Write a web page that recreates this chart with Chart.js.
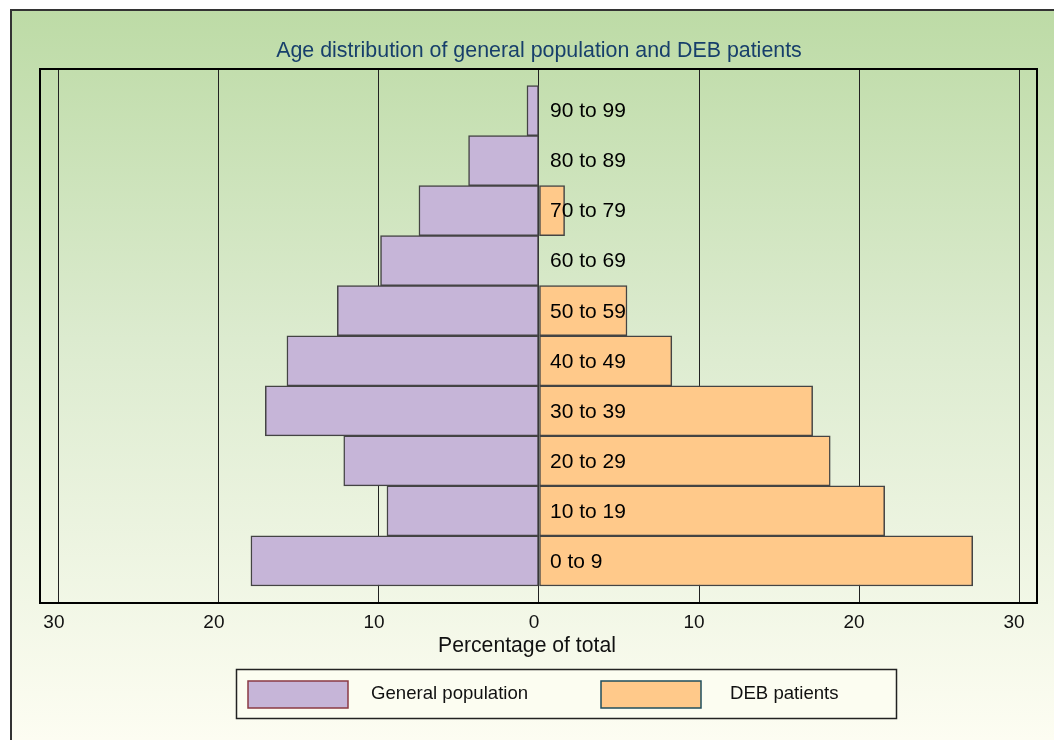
<!DOCTYPE html>
<html>
<head>
<meta charset="utf-8">
<script src="https://cdn.jsdelivr.net/npm/chart.js@4.4.1/dist/chart.umd.min.js"></script>
<style>
html,body{margin:0;padding:0;background:#fff;}
#wrap{width:1054px;height:740px;position:relative;}
</style>
</head>
<body>
<div id="wrap"><canvas id="c" width="1054" height="740"></canvas></div>
<script>
// ---- data ----
const categories = ["0 to 9","10 to 19","20 to 29","30 to 39","40 to 49","50 to 59","60 to 69","70 to 79","80 to 89","90 to 99"];
const generalPopulation = [18.0, 9.5, 12.2, 17.1, 15.75, 12.6, 9.9, 7.5, 4.4, 0.75];
const debPatients = [27.1, 21.6, 18.2, 17.1, 8.3, 5.5, 0, 1.6, 0, 0];
const xTickValues = [-30, -20, -10, 0, 10, 20, 30];
const seriesNames = ["General population", "DEB patients"];
const chartTitle = "Age distribution of general population and DEB patients";
const xAxisTitle = "Percentage of total";

const FONT = "'Liberation Sans', Arial, Helvetica, sans-serif";
const purple = '#c6b5d8', orange = '#ffc98a';

const framePlugin = {
  id: 'frame',
  beforeDraw(chart) {
    const ctx = chart.ctx;
    ctx.save();
    const g = ctx.createLinearGradient(0, 10, 0, 740);
    g.addColorStop(0, '#bddba6');
    g.addColorStop(0.45, '#dcebcf');
    g.addColorStop(1, '#fdfdf2');
    ctx.fillStyle = g;
    ctx.fillRect(11, 10, 1043, 730);
    ctx.strokeStyle = '#333';
    ctx.lineWidth = 2;
    ctx.beginPath();
    ctx.moveTo(11, 740); ctx.lineTo(11, 10); ctx.lineTo(1054, 10);
    ctx.stroke();
    // title
    ctx.fillStyle = '#173f6b';
    ctx.font = '21.4px ' + FONT;
    ctx.textAlign = 'center';
    ctx.textBaseline = 'middle';
    ctx.fillText(chartTitle, 539, 51);
    ctx.restore();
  },
  afterDatasetsDraw(chart) {
    const ctx = chart.ctx;
    const ca = chart.chartArea;
    const ys = chart.scales.y, xs = chart.scales.x;
    ctx.save();
    // category labels
    ctx.fillStyle = '#000';
    ctx.font = '21px ' + FONT;
    ctx.textAlign = 'left';
    ctx.textBaseline = 'middle';
    categories.forEach((c, i) => {
      ctx.fillText(c, xs.getPixelForValue(0) + 11, ys.getPixelForValue(i) + 1);
    });
    // plot border
    ctx.strokeStyle = '#000';
    ctx.lineWidth = 2;
    ctx.strokeRect(ca.left, ca.top, ca.right - ca.left, ca.bottom - ca.top);
    // axis title
    ctx.font = '21.2px ' + FONT;
    ctx.textAlign = 'center';
    ctx.fillStyle = '#111';
    ctx.fillText(xAxisTitle, xs.getPixelForValue(0) - 12, 646);
    // legend
    ctx.lineWidth = 1.5;
    ctx.strokeStyle = '#222';
    ctx.fillStyle = '#fcfdf1';
    ctx.fillRect(236.5, 669.5, 660, 49);
    ctx.strokeRect(236.5, 669.5, 660, 49);
    const items = [
      {x: 248, tx: 371, fill: purple, border: '#8a3a44', label: chart.data.datasets[0].label},
      {x: 601, tx: 730, fill: orange, border: '#1f4e5c', label: chart.data.datasets[1].label}
    ];
    ctx.font = '18.6px ' + FONT;
    ctx.textAlign = 'left';
    items.forEach(it => {
      ctx.fillStyle = it.fill;
      ctx.fillRect(it.x, 681, 100, 27);
      ctx.strokeStyle = it.border;
      ctx.lineWidth = 1.5;
      ctx.strokeRect(it.x, 681, 100, 27);
      ctx.fillStyle = '#111';
      ctx.fillText(it.label, it.tx, 694);
    });
    ctx.restore();
  }
};

const toPts = arr => arr.map((v, i) => ({x: v, y: i}));

new Chart(document.getElementById('c'), {
  type: 'bar',
  data: {
    datasets: [
      {label: seriesNames[0], data: toPts(generalPopulation.map(v => -v)), backgroundColor: purple,
       borderColor: '#444', borderWidth: 1.5, borderSkipped: false, grouped: false},
      {label: seriesNames[1], data: toPts(debPatients), backgroundColor: orange,
       borderColor: '#444', borderWidth: 1.5, borderSkipped: false, grouped: false}
    ]
  },
  options: {
    indexAxis: 'y',
    responsive: false,
    animation: false,
    devicePixelRatio: 1,
    datasets: {bar: {barPercentage: 1, categoryPercentage: 1}},
    layout: {padding: {left: 40, top: 69, right: 17, bottom: 0}},
    plugins: {legend: {display: false}, title: {display: false}, tooltip: {enabled: false}},
    scales: {
      y: {type: 'linear', min: -0.84, max: 9.83, display: false, offset: false, grid: {offset: false},
          afterBuildTicks: s => { s.ticks = categories.map((c, i) => ({value: i})); }},
      x: {
        type: 'linear', min: -31.18, max: 31.12,
        afterBuildTicks: s => { s.ticks = xTickValues.map(v => ({value: v})); },
        afterFit: s => { s.height = 137; },
        grid: {color: '#222', lineWidth: 1, drawTicks: false},
        border: {display: false},
        ticks: {
          callback: v => Math.abs(v),
          color: '#111', font: {size: 19, family: FONT},
          padding: 8, labelOffset: -5, maxRotation: 0, autoSkip: false
        }
      }
    }
  },
  plugins: [framePlugin]
});
</script>
</body>
</html>
